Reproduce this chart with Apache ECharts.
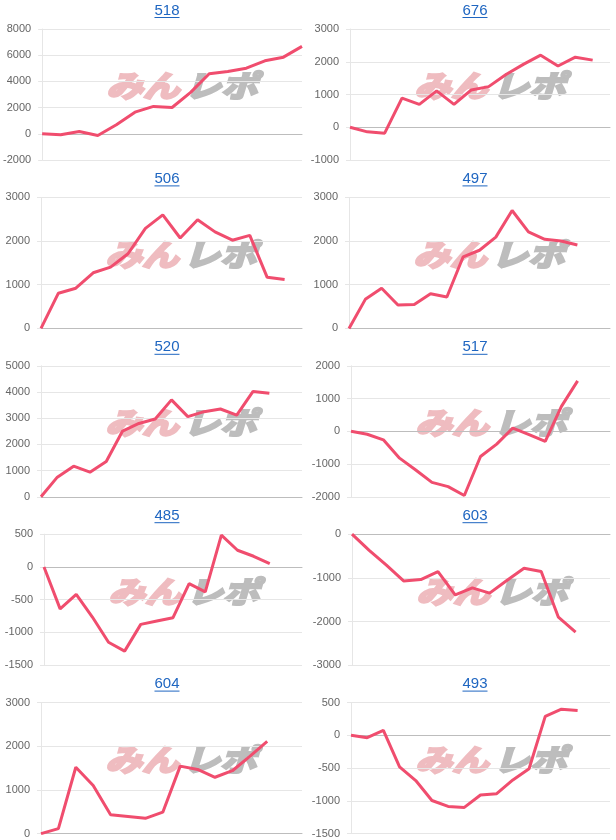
<!DOCTYPE html>
<html>
<head>
<meta charset="utf-8">
<script src="https://cdn.jsdelivr.net/npm/echarts@6/dist/echarts.min.js"></script>
<style>
html,body{margin:0;padding:0;background:#fff;}
#c{width:616px;height:840px;}
</style>
</head>
<body>
<div id="c"></div>
<script>
// ---- data ----
const titles = ['518', '676', '506', '497', '520', '517', '485', '603', '604', '493'];
const days = ['1','2','3','4','5','6','7','8','9','10','11','12','13','14','15','16','17'];
const dayCounts = [15, 16, 16, 17, 17, 17, 17, 16, 16, 17];

const v518 = [0, -80, 180, -130, 690, 1650, 2090, 2010, 3160, 4580, 4760, 5010, 5570, 5850, 6670];
const v676 = [0, -140, -180, 890, 700, 1110, 700, 1140, 1240, 1610, 1920, 2200, 1870, 2140, 2050];
const v506 = [0, 806, 920, 1274, 1404, 1710, 2290, 2600, 2070, 2490, 2210, 2020, 2130, 1170, 1120];
const v497 = [0, 665, 920, 535, 550, 795, 720, 1640, 1790, 2090, 2700, 2210, 2040, 2000, 1910];
const v520 = [0, 750, 1170, 940, 1345, 2510, 2800, 2970, 3700, 3060, 3250, 3350, 3120, 4020, 3950];
const v517 = [0, -90, -260, -820, -1180, -1560, -1690, -1960, -770, -390, 100, -100, -310, 760, 1540];
const v485 = [0, -640, -420, -765, -1150, -1285, -877, -826, -775, -255, -380, 485, 255, 163, 50];
const v603 = [0, -370, -710, -1070, -1040, -855, -1390, -1230, -1350, -1060, -780, -855, -1900, -2240];
const v604 = [0, 115, 1520, 1100, 430, 390, 350, 490, 1545, 1470, 1290, 1440, 1770, 2110];
const v493 = [0, -35, 75, -480, -690, -995, -1085, -1100, -910, -890, -680, -510, 290, 400, 380];
const values = [v518, v676, v506, v497, v520, v517, v485, v603, v604, v493];

const ticks518 = [-2000, 0, 2000, 4000, 6000, 8000];
const ticks676 = [-1000, 0, 1000, 2000, 3000];
const ticks506 = [0, 1000, 2000, 3000];
const ticks497 = [0, 1000, 2000, 3000];
const ticks520 = [0, 1000, 2000, 3000, 4000, 5000];
const ticks517 = [-2000, -1000, 0, 1000, 2000];
const ticks485 = [-1500, -1000, -500, 0, 500];
const ticks603 = [-3000, -2000, -1000, 0];
const ticks604 = [0, 1000, 2000, 3000];
const ticks493 = [-1500, -1000, -500, 0, 500];
const ticks = [ticks518, ticks676, ticks506, ticks497, ticks520, ticks517, ticks485, ticks603, ticks604, ticks493];

// ---- layout / style ----
const plotLefts = [42, 350, 41, 349, 41, 351, 44, 352, 41, 351];
const plotRights = [302, 610];
const titleCenters = [167, 475];
const plotH = 131;
const rowTop = r => 29 + 168.4 * r;
const LINE = '#f04d6e';
const GRID = '#e6e6e6';
const ZERO = '#bdbdbd';
const LINK = '#1f66c1';
const FONT = '"Liberation Sans", Arial, sans-serif';
const WM_FONT = 'italic bold 30px "Noto Sans CJK JP"';
const WM_PINK = '#efbcc0';
const WM_GRAY = '#bdbdbd';

const mctx = document.createElement('canvas').getContext('2d');
mctx.font = '15px "Liberation Sans"';

const grids = [], xAxes = [], yAxes = [], series = [], graphics = [];
for (let i = 0; i < 10; i++) {
  const col = i % 2, row = Math.floor(i / 2);
  const left = plotLefts[i];
  const top = rowTop(row);
  const right = plotRights[col];
  grids.push({ left: left, top: top, width: right - left, height: plotH });
  const t = ticks[i];
  xAxes.push({
    type: 'category', gridIndex: i, boundaryGap: false,
    data: days.slice(0, dayCounts[i]),
    axisLabel: { show: false }, axisTick: { show: false },
    axisLine: { show: true, onZero: true, lineStyle: { color: ZERO, width: 1 } },
    splitLine: { show: false }
  });
  yAxes.push({
    type: 'value', gridIndex: i,
    min: t[0], max: t[t.length - 1], interval: t[1] - t[0],
    axisLabel: { fontSize: 11, color: '#666', margin: 11, fontFamily: FONT, formatter: v => String(v) },
    axisLine: { show: true, lineStyle: { color: GRID } },
    axisTick: { show: true, length: 4, lineStyle: { color: GRID } },
    splitLine: { show: true, lineStyle: { color: GRID } }
  });
  series.push({
    type: 'line', xAxisIndex: i, yAxisIndex: i,
    data: values[i], showSymbol: false, symbol: 'none', smooth: false,
    lineStyle: { color: LINE, width: 3 }, z: 5,
    animation: false
  });
  // title + underline
  const cx = titleCenters[col];
  const w = mctx.measureText(titles[i]).width;
  graphics.push({
    type: 'text', x: cx, y: top - 18.5, z: 10,
    style: { text: titles[i], fill: LINK, font: '15px ' + FONT, textAlign: 'center', textVerticalAlign: 'middle' }
  });
  graphics.push({
    type: 'line', z: 10,
    shape: { x1: cx - w / 2, y1: top - 11.5, x2: cx + w / 2, y2: top - 11.5 },
    style: { stroke: LINK, lineWidth: 1 }
  });
  // watermark
  graphics.push({
    type: 'group', x: left + 140, y: top + 57, scaleX: 1.22, z: 1,
    children: [
      { type: 'text', x: -2, y: 0, style: { text: 'みん', fill: WM_PINK, stroke: WM_PINK, lineWidth: 2.5, font: WM_FONT, textAlign: 'right', textVerticalAlign: 'middle' } },
      { type: 'text', x: 2, y: 0, style: { text: 'レポ', fill: WM_GRAY, stroke: WM_GRAY, lineWidth: 2.5, font: WM_FONT, textAlign: 'left', textVerticalAlign: 'middle' } }
    ]
  });
}

const chart = echarts.init(document.getElementById('c'), null, { renderer: 'canvas' });
chart.setOption({
  animation: false,
  grid: grids, xAxis: xAxes, yAxis: yAxes, series: series,
  graphic: graphics
});
</script>
</body>
</html>
